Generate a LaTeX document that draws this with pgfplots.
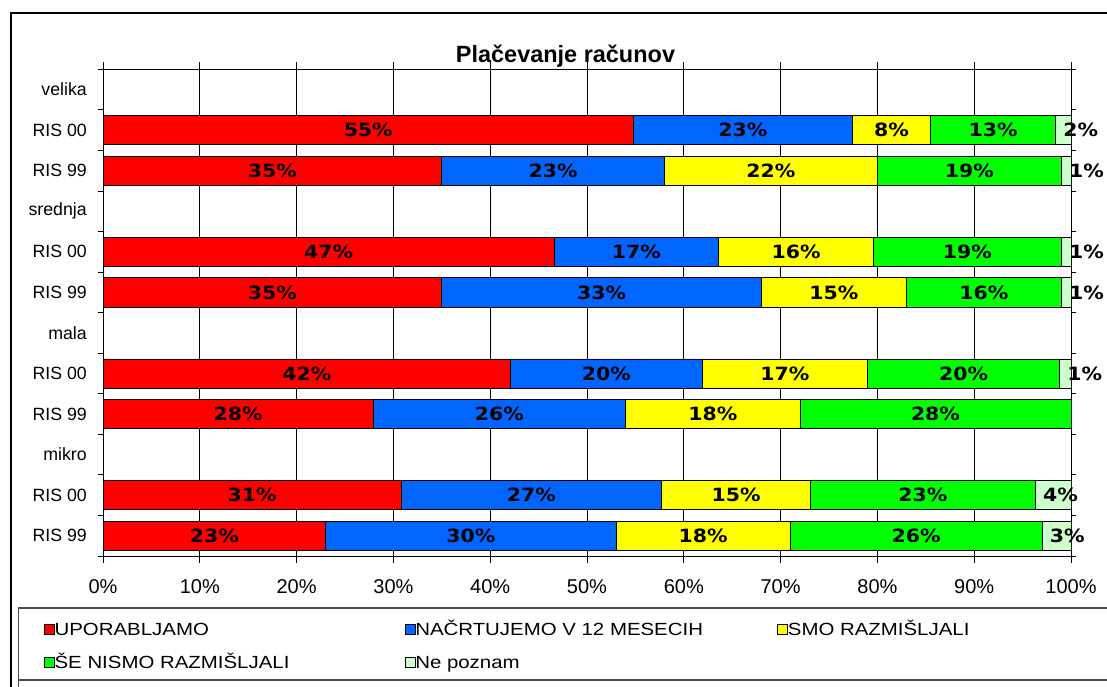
\documentclass[border=0pt]{standalone}
\usepackage{pgfplots}
\pgfplotsset{compat=1.18}
\usepackage{pgfplotstable}
\usepackage{fontspec}
\setmainfont{Liberation Sans}
\newfontfamily\lblfont{DejaVu Sans}[FakeStretch=1.12]
\newfontfamily\legfont{Liberation Sans}[FakeStretch=1.16]
\definecolor{cU}{HTML}{FF0000}
\definecolor{cN}{HTML}{0066FF}
\definecolor{cS}{HTML}{FFFF00}
\definecolor{cE}{HTML}{00FF00}
\definecolor{cP}{HTML}{CCFFCC}

\pgfplotstableread{
y U N S E P Pl
10 54.8 22.6 8.1 12.9 1.6 2\%
9 35.0 23.0 22.0 19.0 1.0 1\%
7 46.6 17.0 16.0 19.4 1.0 1\%
6 35.0 33.0 15.0 16.0 1.0 1\%
4 42.1 19.8 17.1 19.8 1.2 1\%
3 27.9 26.1 18.0 28.0 0.0 {}
1 30.8 26.9 15.4 23.2 3.7 4\%
0 23.0 30.0 18.0 26.0 3.0 3\%
}\datatable

\pgfplotsset{
  seg/.style 2 args={fill=#1, draw=black, line width=0.6pt,
     point meta=\thisrow{#2},
     nodes near coords={\pgfmathprintnumber[fixed,precision=0,assume math mode=true]{\pgfplotspointmeta}\%},
     every node near coord/.append style={anchor=center, inner sep=0pt, text=black,
        font=\lblfont\bfseries\fontsize{13.7}{15}\selectfont}},
}

\begin{document}
\begin{tikzpicture}
\path[use as bounding box] (0,0) rectangle (830.25pt,-514.5pt);
\draw[line width=1.5pt] (8.25pt,-600pt) -- (8.25pt,-10pt) -- (900pt,-10pt);
\draw[gray!60!black, line width=1pt] (13.7pt,-600pt) -- (13.7pt,-456pt) -- (900pt,-456pt);
\draw[gray!60!black, line width=1pt] (13.7pt,-510pt) -- (900pt,-510pt);
\begin{axis}[
  at={(77.25pt,-417pt)}, anchor=south west,
  scale only axis, width=726pt, height=365pt,
  /pgf/number format/assume math mode=true,
  xbar stacked, bar width=0.72,
  xmin=0, xmax=100, ymin=-0.5, ymax=11.5,
  xtick={0,10,...,100},
  xticklabel={\pgfmathprintnumber[assume math mode=true]{\tick}\%},
  ytick={0,...,11},
  yticklabels={RIS 99,RIS 00,mikro,RIS 99,RIS 00,mala,RIS 99,RIS 00,srednja,RIS 99,RIS 00,velika},
  minor ytick={-0.5,0.5,...,11.5},
  tick align=outside,
  major tick length=5.25pt,
  minor tick length=4pt,
  major y tick style={draw=none},
  tick style={black, line width=0.6pt},
  xmajorgrids,
  major grid style={black, line width=0.6pt},
  axis line style={black, line width=0.75pt},
  yticklabel style={font=\fontsize{13.3}{15}\selectfont, xshift=-3.4pt},
  xticklabel style={font=\fontsize{15}{17}\selectfont, yshift=-9pt},
  title={Plačevanje računov},
  title style={font=\bfseries\fontsize{17.6}{20}\selectfont, at={(axis description cs:0.4778,1.011)}, anchor=center},
  legend columns=3,
  legend cell align=left,
  legend image code/.code={\draw[#1, draw=black, line width=0.5pt] (0pt,-3.75pt) rectangle (7.5pt,3.75pt);},
  legend style={draw=none, fill=none, inner sep=0pt, outer sep=0pt,
     at={(axis description cs:-0.0610,-0.1367)}, anchor=north west,
     font=\legfont\fontsize{13.2}{15}\selectfont,
     /tikz/every even column/.append style={column sep=3pt},
     row sep=15.3pt,
     nodes={inner sep=0pt, text height=9.5pt, text depth=0pt}},
]
\addplot[seg={cU}{U}] table[x=U,y=y]{\datatable};
\addlegendentry{\makebox[259.5pt][l]{UPORABLJAMO}}
\addplot[seg={cN}{N}] table[x=N,y=y]{\datatable};
\addlegendentry{\makebox[268.5pt][l]{NAČRTUJEMO V 12 MESECIH}}
\addplot[seg={cS}{S}] table[x=S,y=y]{\datatable};
\addlegendentry{SMO RAZMIŠLJALI}
\addplot[seg={cE}{E}] table[x=E,y=y]{\datatable};
\addlegendentry{\makebox[259.5pt][l]{ŠE NISMO RAZMIŠLJALI}}
\addplot[fill=cP, draw=black, line width=0.6pt,
  point meta=explicit symbolic,
  visualization depends on={\thisrow{P}/2}\as\w,
  nodes near coords={\pgfplotspointmeta},
  every node near coord/.append style={anchor=west, inner sep=0pt, text=black,
     font=\lblfont\bfseries\fontsize{13.7}{15}\selectfont,
     shift={(axis direction cs:-\w,0)}, xshift=5.6pt}]
  table[x=P,y=y,meta=Pl]{\datatable};
\addlegendentry{Ne poznam}
\end{axis}
\end{tikzpicture}
\end{document}
